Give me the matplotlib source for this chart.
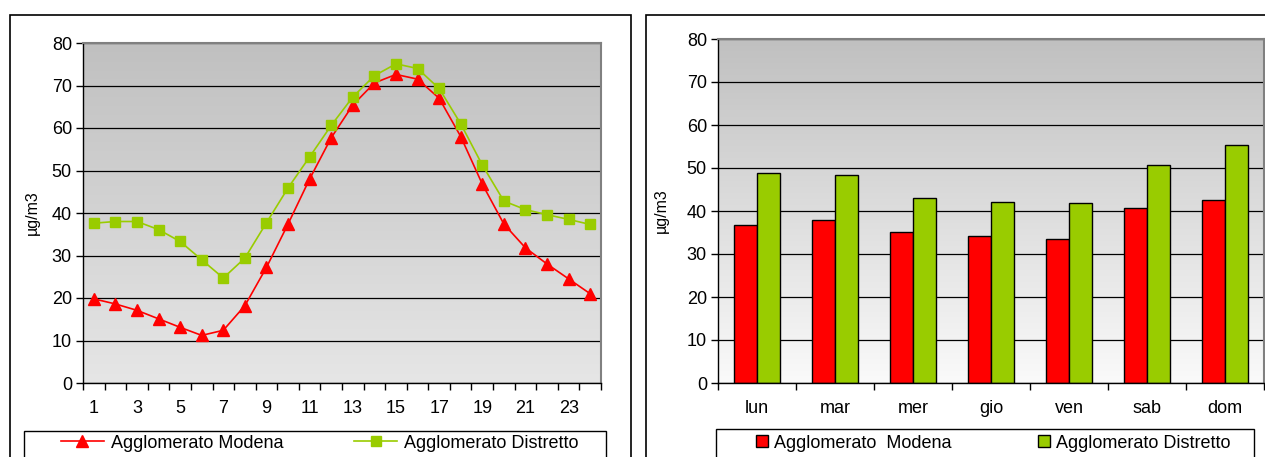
import numpy as np
import matplotlib
matplotlib.use("Agg")
import matplotlib.pyplot as plt
from matplotlib.patches import Rectangle
from matplotlib.colors import LinearSegmentedColormap

plt.rcParams["font.family"] = ["Liberation Sans", "DejaVu Sans"]

# hourly profile (hour 1..24)
hours = list(range(1, 25))
modena_h = [19.8, 18.6, 17.1, 15.1, 13.1, 11.2, 12.4, 18.2, 27.2, 37.4, 48.0, 57.7,
            65.4, 70.6, 72.6, 71.5, 67.0, 58.0, 46.8, 37.4, 31.8, 28.0, 24.5, 21.0]
distretto_h = [37.6, 38.0, 38.0, 36.1, 33.3, 29.0, 24.7, 29.4, 37.7, 45.9, 53.2, 60.6,
               67.3, 72.3, 75.1, 74.0, 69.3, 61.0, 51.3, 42.8, 40.8, 39.6, 38.5, 37.3]

# weekly profile
days = ["lun", "mar", "mer", "gio", "ven", "sab", "dom"]
modena_d = [36.8, 37.9, 35.2, 34.1, 33.6, 40.7, 42.6]
distretto_d = [48.8, 48.4, 43.0, 42.2, 41.8, 50.7, 55.3]

RED = "#ff0000"
GREEN = "#99cc00"
W, H = 1265, 457


def fx(px):
    return px / W


def fy(py):
    return 1 - py / H


def box(x0, y0, x1, y1, lw=1.2):
    fig.patches.append(Rectangle((fx(x0), fy(y1)), fx(x1) - fx(x0), fy(y0) - fy(y1),
                                 transform=fig.transFigure, fill=False,
                                 ec="black", lw=lw))


def style_axes(ax, xlo, xhi, bottom_color):
    cmap = LinearSegmentedColormap.from_list("bg", ["#c0c0c0", bottom_color])
    grad = np.linspace(0, 1, 256).reshape(-1, 1)
    ax.imshow(grad, cmap=cmap, extent=[xlo, xhi, 0, 80], origin="upper",
              aspect="auto", zorder=0)
    ax.set_xlim(xlo, xhi)
    ax.set_ylim(0, 80)
    ax.set_yticks(range(0, 90, 10))
    ax.set_axisbelow(True)
    ax.yaxis.grid(True, color="black", lw=0.9)
    for s in ("top", "right"):
        ax.spines[s].set_color("#808080")
        ax.spines[s].set_linewidth(1.5)
    for s in ("left", "bottom"):
        ax.spines[s].set_color("black")
        ax.spines[s].set_linewidth(1.0)
    ax.tick_params(axis="y", length=5, width=1, direction="out", pad=3)
    ax.tick_params(axis="x", which="major", length=0, pad=12)
    ax.tick_params(axis="x", which="minor", length=5, width=1, direction="out")
    ax.tick_params(labelsize=13)


fig = plt.figure(figsize=(W / 100, H / 100), dpi=100)

# outer frames and legend boxes
box(10, 15, 631, 470)
box(646, 15, 1290, 470)
box(24, 431, 606, 470, lw=1.0)
box(716, 429, 1254, 470, lw=1.0)

# left: hourly lines
ax1 = fig.add_axes([fx(83), fy(383), fx(518), fy(43) - fy(383)])
style_axes(ax1, 0.5, 24.5, "#e6e6e6")
l1, = ax1.plot(hours, modena_h, color=RED, lw=1.2, marker="^", ms=8.5, zorder=3)
l2, = ax1.plot(hours, distretto_h, color=GREEN, lw=1.2, marker="s", ms=7, zorder=3)
ax1.set_xticks(hours[::2])
ax1.set_xticklabels([str(h) for h in hours[::2]])
ax1.set_xticks(np.arange(0.5, 25), minor=True)
ax1.set_ylabel("µg/m3", fontsize=11.5)
ax1.yaxis.set_label_coords(-0.083, 0.5)

fig.legend([l1, l2], ["Agglomerato Modena", "Agglomerato Distretto"],
           loc="center left", bbox_to_anchor=(fx(61), fy(443)),
           ncol=2, fontsize=13, frameon=False, handlelength=2.38,
           handletextpad=0.39, columnspacing=3.93, borderaxespad=0, borderpad=0)

# right: weekly bars
ax2 = fig.add_axes([fx(718), fy(383), fx(546), fy(39) - fy(383)])
style_axes(ax2, -0.5, 6.5, "#fafafa")
x = np.arange(len(days))
bw = 0.29
b1 = ax2.bar(x - bw / 2, modena_d, bw, color=RED, edgecolor="black", lw=1, zorder=2)
b2 = ax2.bar(x + bw / 2, distretto_d, bw, color=GREEN, edgecolor="black", lw=1, zorder=2)
ax2.set_xticks(x)
ax2.set_xticklabels(days)
ax2.set_xticks(np.arange(-0.5, 7), minor=True)
ax2.set_ylabel("µg/m3", fontsize=11.5)
ax2.yaxis.set_label_coords(-0.09, 0.5)

fig.legend([b1, b2], ["Agglomerato  Modena", "Agglomerato Distretto"],
           loc="center left", bbox_to_anchor=(fx(756), fy(443)),
           ncol=2, fontsize=13, frameon=False, handlelength=0.66, handleheight=0.66,
           handletextpad=0.33, columnspacing=4.8, borderaxespad=0, borderpad=0)

fig.savefig("out.png", dpi=100)
